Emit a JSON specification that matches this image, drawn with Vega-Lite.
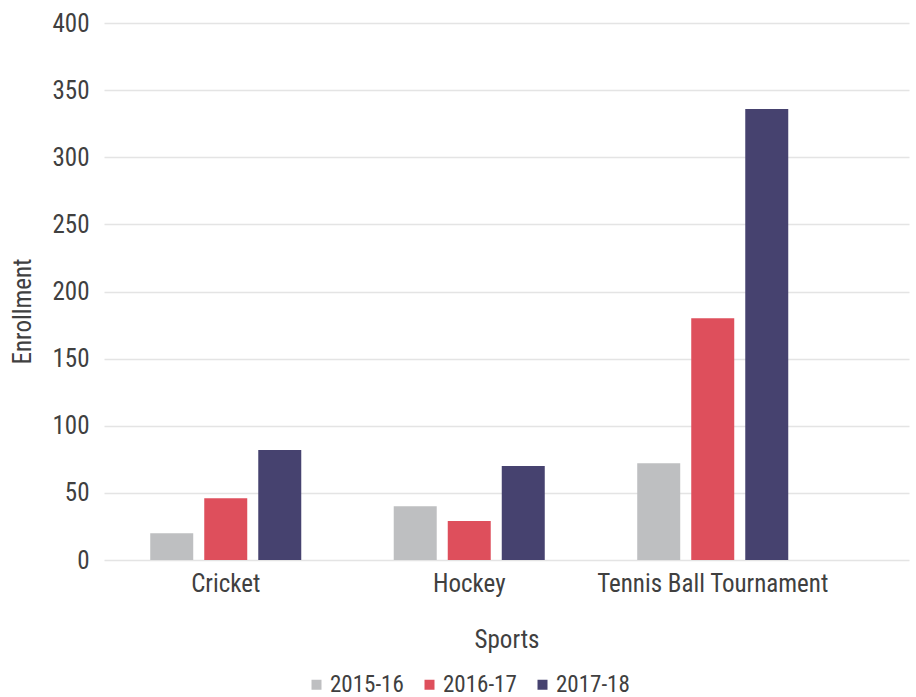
{
  "$schema": "https://vega.github.io/schema/vega-lite/v6.json",
  "width": 805,
  "height": 537,
  "autosize": {"type": "none"},
  "padding": {"left": 104, "top": 23, "right": 7, "bottom": 137},
  "background": "white",
  "config": {
    "font": "Roboto Condensed, Liberation Sans Narrow, DejaVu Sans Condensed, sans-serif",
    "view": {"stroke": null},
    "axis": {
      "labelFont": "Roboto Condensed, Liberation Sans Narrow, DejaVu Sans Condensed, sans-serif",
      "titleFont": "Roboto Condensed, Liberation Sans Narrow, DejaVu Sans Condensed, sans-serif",
      "labelColor": "#404040",
      "titleColor": "#404040",
      "labelFontSize": 25,
      "titleFontSize": 25,
      "titleFontWeight": "normal",
      "labelLimit": 0
    },
    "legend": {
      "labelFont": "Roboto Condensed, Liberation Sans Narrow, DejaVu Sans Condensed, sans-serif",
      "labelColor": "#404040",
      "labelFontSize": 23,
      "labelLimit": 0
    }
  },
  "data": {
    "values": [
      {"sport": "Cricket", "year": "2015-16", "enrollment": 20},
      {"sport": "Cricket", "year": "2016-17", "enrollment": 46},
      {"sport": "Cricket", "year": "2017-18", "enrollment": 82},
      {"sport": "Hockey", "year": "2015-16", "enrollment": 40},
      {"sport": "Hockey", "year": "2016-17", "enrollment": 29},
      {"sport": "Hockey", "year": "2017-18", "enrollment": 70},
      {"sport": "Tennis Ball Tournament", "year": "2015-16", "enrollment": 72},
      {"sport": "Tennis Ball Tournament", "year": "2016-17", "enrollment": 180},
      {"sport": "Tennis Ball Tournament", "year": "2017-18", "enrollment": 336}
    ]
  },
  "mark": {"type": "bar"},
  "encoding": {
    "x": {
      "field": "sport",
      "type": "nominal",
      "sort": null,
      "scale": {"paddingInner": 0, "paddingOuter": 0.153, "align": 0},
      "axis": {
        "title": "Sports",
        "labelAngle": 0,
        "domain": false,
        "ticks": false,
        "labelPadding": 11,
        "titlePadding": 31
      }
    },
    "xOffset": {
      "field": "year",
      "type": "nominal",
      "scale": {"paddingInner": 0.204, "paddingOuter": 0.856}
    },
    "y": {
      "field": "enrollment",
      "type": "quantitative",
      "scale": {"domain": [0, 400]},
      "axis": {
        "title": "Enrollment",
        "values": [0, 50, 100, 150, 200, 250, 300, 350, 400],
        "domain": false,
        "ticks": false,
        "labelPadding": 15,
        "gridColor": "#e4e4e4",
        "gridWidth": 1.5,
        "titleX": -82,
        "titleY": 288,
        "titleAlign": "center",
        "titleBaseline": "middle",
        "titleAngle": -90
      }
    },
    "color": {
      "field": "year",
      "type": "nominal",
      "scale": {
        "domain": ["2015-16", "2016-17", "2017-18"],
        "range": ["#bebfc1", "#de4f5c", "#46426f"]
      },
      "legend": {
        "title": null,
        "orient": "none",
        "direction": "horizontal",
        "legendX": 201,
        "legendY": 650,
        "symbolType": "square",
        "symbolSize": 100,
        "symbolStrokeWidth": 0,
        "labelOffset": 2,
        "columnPadding": 14
      }
    }
  }
}
